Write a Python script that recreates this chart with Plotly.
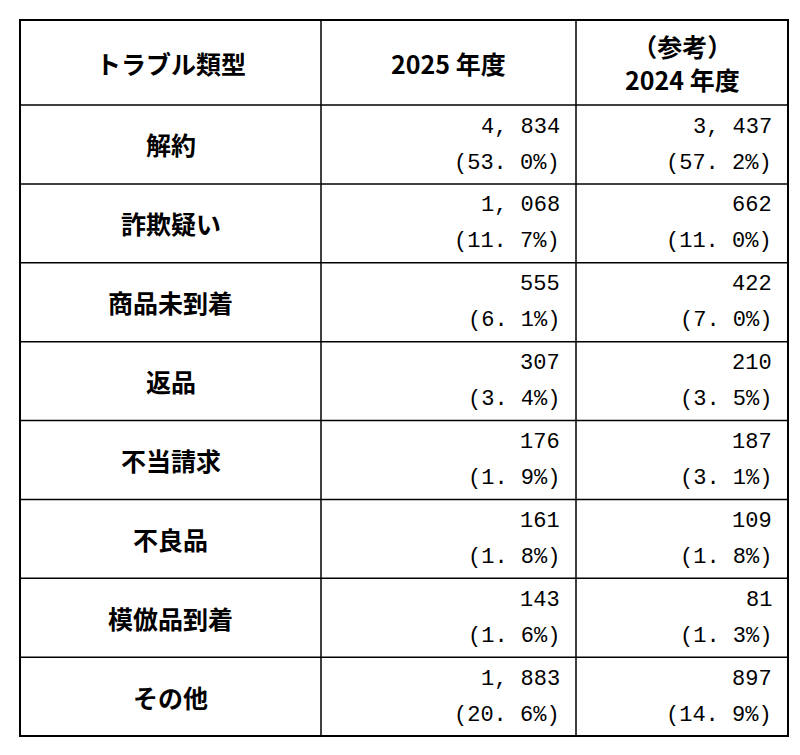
import plotly.graph_objects as go

categories = ["解約", "詐欺疑い", "商品未到着", "返品", "不当請求", "不良品", "模倣品到着", "その他"]
counts_2025 = [4834, 1068, 555, 307, 176, 161, 143, 1883]
share_2025 = [53.0, 11.7, 6.1, 3.4, 1.9, 1.8, 1.6, 20.6]
counts_2024 = [3437, 662, 422, 210, 187, 109, 81, 897]
share_2024 = [57.2, 11.0, 7.0, 3.5, 3.1, 1.8, 1.3, 14.9]
headers = ["トラブル類型", "2025 年度", "（参考）<br>2024 年度"]

W, H = 800, 755
left, right, top, bottom = 12, 780, 12, 728
col_x = [left, 313, 568, right]
header_h = 85
row_h = (bottom - top - header_h) / len(categories)
row_y = [top + header_h + i * row_h for i in range(len(categories) + 1)]

fig = go.Figure()
shapes = [dict(type="rect", x0=left, x1=right, y0=top, y1=bottom,
               line=dict(color="black", width=2))]
for x in col_x[1:-1]:
    shapes.append(dict(type="line", x0=x, x1=x, y0=top, y1=bottom, line=dict(color="black", width=1.5)))
for y in row_y[:-1]:
    shapes.append(dict(type="line", x0=left, x1=right, y0=y, y1=y, line=dict(color="black", width=1.5)))

sans = "Noto Sans CJK JP"
mono = "Liberation Mono"
ann = []
for i, h in enumerate(headers):
    ann.append(dict(x=(col_x[i] + col_x[i + 1]) / 2, y=top + header_h / 2, text=h,
                    showarrow=False, font=dict(family=sans, size=25, color="black", weight=600)))
for i, cat in enumerate(categories):
    y0 = row_y[i]
    ann.append(dict(x=(col_x[0] + col_x[1]) / 2, y=y0 + row_h / 2, text=cat,
                    showarrow=False, font=dict(family=sans, size=25, color="black", weight=600)))
    for j, (c, s) in enumerate([(counts_2025[i], share_2025[i]), (counts_2024[i], share_2024[i])]):
        xr = col_x[j + 2] - 14
        ann.append(dict(x=xr, y=y0 + 22, text=f"{c:,}".replace(",", ", "), xanchor="right",
                        showarrow=False, font=dict(family=mono, size=22, color="black")))
        ann.append(dict(x=xr, y=y0 + 58, text=f"({s:.1f}%)".replace(".", ". "), xanchor="right",
                        showarrow=False, font=dict(family=mono, size=22, color="black")))

fig.update_layout(width=W, height=H, margin=dict(l=0, r=0, t=0, b=0),
                  plot_bgcolor="white", paper_bgcolor="white",
                  shapes=shapes, annotations=ann, showlegend=False,
                  xaxis=dict(range=[0, W], visible=False, fixedrange=True),
                  yaxis=dict(range=[H, 0], visible=False, fixedrange=True))
fig.write_html("out.html")
